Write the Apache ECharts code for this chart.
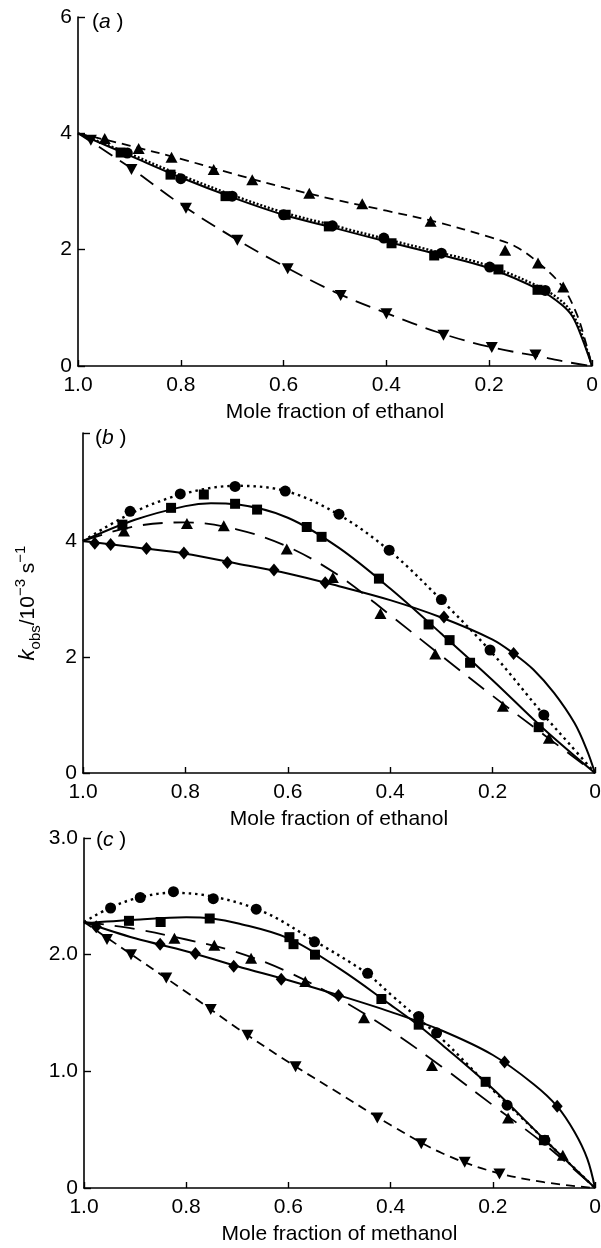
<!DOCTYPE html>
<html>
<head>
<meta charset="utf-8">
<script src="https://cdn.jsdelivr.net/npm/echarts@6/dist/echarts.min.js"></script>
<style>
html,body{margin:0;padding:0;background:#fff;}
#chart{width:601px;height:1248px;}
</style>
</head>
<body>
<div id="chart"></div>
<script>
// ---------- tick values ----------
const xTicks = [1.0, 0.8, 0.6, 0.4, 0.2, 0];
const yTicksA = [0, 2, 4, 6];
const yTicksB = [0, 2, 4];
const yTicksC = [0, 1.0, 2.0, 3.0];
const xTitles = ['Mole fraction of ethanol', 'Mole fraction of ethanol', 'Mole fraction of methanol'];
const panelLetters = ['a', 'b', 'c'];

// ---------- panel (a) ----------
const aUpPts = [[0.948,3.91],[0.882,3.74],[0.818,3.59],[0.736,3.38],[0.661,3.20],[0.55,2.97],[0.447,2.79],[0.314,2.49],[0.169,1.99],[0.105,1.77],[0.056,1.36]];
const aUpCurve = [[1,4],[0.9,3.79],[0.8,3.56],[0.7,3.31],[0.6,3.07],[0.5,2.86],[0.4,2.67],[0.3,2.47],[0.2,2.22],[0.15,2.06],[0.105,1.78],[0.058,1.37],[0.03,0.9],[0.012,0.4],[0,0]];
const aDownPts = [[0.975,3.88],[0.896,3.38],[0.79,2.71],[0.69,2.16],[0.592,1.67],[0.489,1.21],[0.40,0.90],[0.289,0.53],[0.195,0.32],[0.11,0.19]];
const aDownCurve = [[1,4],[0.9,3.42],[0.8,2.78],[0.7,2.22],[0.6,1.72],[0.5,1.27],[0.4,0.91],[0.3,0.58],[0.2,0.33],[0.1,0.16],[0.05,0.07],[0,0]];
const aSqPts = [[0.917,3.67],[0.82,3.29],[0.713,2.92],[0.596,2.60],[0.512,2.40],[0.39,2.11],[0.307,1.90],[0.182,1.66],[0.106,1.31]];
const aCirPts = [[0.904,3.66],[0.80,3.22],[0.70,2.92],[0.60,2.60],[0.505,2.41],[0.405,2.20],[0.293,1.94],[0.199,1.70],[0.091,1.30]];
const aSolidCurve = [[1,4],[0.9,3.62],[0.8,3.24],[0.7,2.9],[0.6,2.6],[0.5,2.37],[0.4,2.14],[0.3,1.92],[0.2,1.68],[0.1,1.3],[0.06,1.06],[0.038,0.85],[0.019,0.47],[0,0]];
const aDotCurve = [[1,4],[0.9,3.65],[0.8,3.28],[0.7,2.94],[0.6,2.64],[0.5,2.41],[0.4,2.18],[0.3,1.96],[0.2,1.72],[0.1,1.35],[0.06,1.12],[0.038,0.9],[0.019,0.52],[0,0]];

// ---------- panel (b) ----------
const bCirPts = [[0.908,4.51],[0.81,4.81],[0.703,4.94],[0.605,4.86],[0.50,4.46],[0.402,3.84],[0.30,2.99],[0.205,2.12],[0.10,1.0]];
const bDotCurve = [[1,4],[0.9,4.5],[0.8,4.82],[0.7,4.95],[0.6,4.85],[0.5,4.45],[0.4,3.82],[0.3,2.98],[0.2,2.06],[0.1,1.0],[0.05,0.5],[0,0]];
const bSqPts = [[0.923,4.28],[0.828,4.57],[0.764,4.80],[0.703,4.64],[0.66,4.54],[0.563,4.24],[0.534,4.07],[0.422,3.35],[0.325,2.56],[0.284,2.29],[0.244,1.90],[0.11,0.79]];
const bSqCurve = [[1,4],[0.9,4.36],[0.8,4.6],[0.75,4.65],[0.7,4.63],[0.6,4.4],[0.5,3.88],[0.4,3.18],[0.3,2.4],[0.2,1.6],[0.1,0.76],[0,0]];
const bUpPts = [[0.92,4.17],[0.797,4.30],[0.725,4.26],[0.602,3.86],[0.512,3.37],[0.419,2.75],[0.312,2.05],[0.18,1.15],[0.09,0.60]];
const bUpCurve = [[1,4],[0.9,4.25],[0.8,4.32],[0.7,4.2],[0.6,3.9],[0.5,3.4],[0.4,2.72],[0.3,2.02],[0.2,1.33],[0.1,0.66],[0,0]];
const bDiaPts = [[0.977,3.96],[0.946,3.94],[0.876,3.87],[0.803,3.79],[0.718,3.63],[0.627,3.50],[0.527,3.28],[0.295,2.69],[0.159,2.06]];
const bDiaCurve = [[1,4],[0.9,3.89],[0.8,3.78],[0.7,3.61],[0.6,3.44],[0.5,3.22],[0.4,2.98],[0.3,2.68],[0.2,2.3],[0.159,2.06],[0.12,1.78],[0.08,1.38],[0.04,0.86],[0.016,0.4],[0,0]];

// ---------- panel (c) ----------
const cCirPts = [[0.948,2.40],[0.89,2.49],[0.825,2.54],[0.747,2.48],[0.663,2.39],[0.549,2.11],[0.445,1.84],[0.345,1.47],[0.31,1.33],[0.172,0.71],[0.098,0.41]];
const cDotCurve = [[1,2.28],[0.95,2.40],[0.9,2.48],[0.83,2.53],[0.75,2.50],[0.65,2.37],[0.55,2.12],[0.45,1.85],[0.4,1.66],[0.35,1.47],[0.3,1.28],[0.2,0.84],[0.1,0.42],[0.05,0.21],[0,0]];
const cSqPts = [[0.912,2.29],[0.85,2.28],[0.754,2.31],[0.598,2.15],[0.59,2.09],[0.548,2.0],[0.418,1.62],[0.345,1.40],[0.214,0.91],[0.10,0.41]];
const cSqCurve = [[1,2.27],[0.9,2.30],[0.8,2.32],[0.75,2.31],[0.7,2.27],[0.6,2.14],[0.5,1.88],[0.4,1.57],[0.35,1.41],[0.3,1.23],[0.2,0.85],[0.1,0.42],[0,0]];
const cUpPts = [[0.823,2.14],[0.745,2.08],[0.673,1.97],[0.567,1.77],[0.452,1.46],[0.319,1.05],[0.17,0.60],[0.063,0.28]];
const cUpCurve = [[1,2.28],[0.9,2.22],[0.8,2.13],[0.7,2.02],[0.6,1.85],[0.5,1.62],[0.4,1.35],[0.3,1.04],[0.2,0.71],[0.1,0.38],[0,0]];
const cDiaPts = [[0.976,2.24],[0.851,2.09],[0.782,2.01],[0.707,1.90],[0.614,1.79],[0.502,1.65],[0.177,1.08],[0.074,0.70]];
const cDiaCurve = [[1,2.28],[0.9,2.14],[0.8,2.03],[0.7,1.9],[0.6,1.78],[0.5,1.65],[0.4,1.51],[0.3,1.35],[0.2,1.14],[0.12,0.89],[0.074,0.70],[0.04,0.48],[0.015,0.25],[0,0]];
const cDownPts = [[0.955,2.13],[0.908,2.0],[0.839,1.80],[0.752,1.53],[0.68,1.31],[0.586,1.04],[0.426,0.60],[0.34,0.38],[0.255,0.22],[0.187,0.12]];
const cDownCurve = [[1,2.28],[0.95,2.13],[0.9,1.98],[0.8,1.68],[0.7,1.37],[0.6,1.08],[0.5,0.81],[0.4,0.54],[0.3,0.30],[0.2,0.14],[0.1,0.05],[0,0]];

// ---------- styling / layout ----------
const FONT = '"Liberation Sans", Arial, Helvetica, sans-serif';
const INK = '#000';
const grids = [
  {left: 78, top: 17, width: 514, height: 349},
  {left: 83, top: 433, width: 512, height: 340},
  {left: 84, top: 838, width: 511, height: 350}
];
const yMax = [6, 5.86, 3];
const yTickSets = [yTicksA, yTicksB, yTicksC];

function fmtX(v) {
  const hit = xTicks.find(t => Math.abs(t - v) < 1e-6);
  if (hit === undefined) return '';
  if (hit === 0) return '0';
  return hit.toFixed(1);
}
function fmtY(i) {
  return function (v) {
    const hit = yTickSets[i].find(t => Math.abs(t - v) < 1e-6);
    if (hit === undefined) return '';
    if (hit === 0) return '0';
    return i === 2 ? hit.toFixed(1) : String(hit);
  };
}

const xAxes = grids.map((g, i) => ({
  gridIndex: i, type: 'value', min: 0, max: 1, interval: 0.2, inverse: true,
  name: xTitles[i], nameLocation: 'middle', nameGap: 36,
  nameTextStyle: {fontSize: 21, color: INK, fontFamily: FONT},
  axisLine: {show: true, onZero: false, lineStyle: {color: INK, width: 1.6}},
  axisTick: {show: true, inside: true, length: 6, lineStyle: {color: INK, width: 1.4}},
  axisLabel: {color: INK, fontSize: 21, fontFamily: FONT, margin: 9, formatter: fmtX, showMinLabel: true, showMaxLabel: true},
  splitLine: {show: false}
}));

const yAxes = grids.map((g, i) => ({
  gridIndex: i, type: 'value', min: 0, max: yMax[i], interval: i === 2 ? 1 : 2,
  axisLine: {show: true, onZero: false, lineStyle: {color: INK, width: 1.6}},
  axisTick: Object.assign({show: true, inside: true, length: 7, lineStyle: {color: INK, width: 1.4}},
    i === 1 ? {customValues: [0, 2, 4, yMax[1]]} : {}),
  axisLabel: Object.assign({color: INK, fontSize: 21, fontFamily: FONT, margin: 6, formatter: fmtY(i), showMinLabel: true, showMaxLabel: true},
    i === 1 ? {customValues: yTicksB} : {}),
  splitLine: {show: false},
  name: i === 1 ? '{k|k}{sub|obs}{n|/10}{sup|−3}{n| s}{sup|−1}' : '',
  nameLocation: 'middle', nameRotate: 90, nameGap: 40,
  nameTextStyle: {
    color: INK, fontFamily: FONT,
    rich: {
      k: {fontSize: 22, fontStyle: 'italic', fontFamily: FONT, color: INK, lineHeight: 30, verticalAlign: 'middle'},
      n: {fontSize: 21, fontFamily: FONT, color: INK, lineHeight: 30, verticalAlign: 'middle'},
      sub: {fontSize: 15, fontFamily: FONT, color: INK, lineHeight: 30, verticalAlign: 'bottom'},
      sup: {fontSize: 15, fontFamily: FONT, color: INK, lineHeight: 30, verticalAlign: 'top'}
    }
  }
}));

function curve(data, gi, type, width) {
  return {type: 'line', xAxisIndex: gi, yAxisIndex: gi, data: data, smooth: 0.35,
    symbol: 'none', showSymbol: false, silent: true, z: 2,
    lineStyle: {color: INK, width: width || 1.8, type: type, cap: 'butt', opacity: 1}};
}
function pts(data, gi, symbol, size, rotate) {
  return {type: 'scatter', xAxisIndex: gi, yAxisIndex: gi, data: data, symbol: symbol,
    symbolSize: size, symbolRotate: rotate || 0, silent: true, z: 4,
    itemStyle: {color: INK, borderWidth: 0, opacity: 1}};
}

const DOT_A = [2, 2];
const DOT = [2.5, 4];
const SHORT = [9, 6];
const LONG = [16, 9];
const LONGER = [20, 11];

const series = [
  // (a)
  curve(aUpCurve, 0, SHORT, 1.8),
  curve(aDownCurve, 0, LONG, 1.8),
  curve(aDotCurve, 0, DOT_A, 2.4),
  curve(aSolidCurve, 0, 'solid', 2),
  pts(aUpPts, 0, 'triangle', [12, 11]),
  pts(aDownPts, 0, 'triangle', [12, 11], 180),
  pts(aSqPts, 0, 'rect', 10),
  pts(aCirPts, 0, 'circle', 11),
  // (b)
  curve(bDotCurve, 1, DOT, 2.4),
  curve(bSqCurve, 1, 'solid', 2),
  curve(bUpCurve, 1, LONGER, 1.8),
  curve(bDiaCurve, 1, 'solid', 2),
  pts(bCirPts, 1, 'circle', 11),
  pts(bSqPts, 1, 'rect', 10),
  pts(bUpPts, 1, 'triangle', [12, 11]),
  pts(bDiaPts, 1, 'diamond', [11, 13]),
  // (c)
  curve(cDotCurve, 2, DOT, 2.4),
  curve(cSqCurve, 2, 'solid', 2),
  curve(cUpCurve, 2, LONGER, 1.8),
  curve(cDiaCurve, 2, 'solid', 2),
  curve(cDownCurve, 2, SHORT, 1.8),
  pts(cCirPts, 2, 'circle', 11),
  pts(cSqPts, 2, 'rect', 10),
  pts(cUpPts, 2, 'triangle', [12, 11]),
  pts(cDiaPts, 2, 'diamond', [11, 13]),
  pts(cDownPts, 2, 'triangle', [12, 11], 180)
];

const titlePos = [{left: 87, top: 7}, {left: 90, top: 423}, {left: 91, top: 825}];
const titles = panelLetters.map((L, i) => ({
  text: '{p|(}{i|' + L + '}{p| )}', left: titlePos[i].left, top: titlePos[i].top,
  textStyle: {fontWeight: 'normal', rich: {
    p: {fontSize: 21, fontFamily: FONT, fontWeight: 'normal', color: INK},
    i: {fontSize: 21, fontFamily: FONT, fontStyle: 'italic', fontWeight: 'normal', color: INK}
  }}
}));

const chart = echarts.init(document.getElementById('chart'), null, {renderer: 'canvas'});
chart.setOption({
  backgroundColor: '#fff',
  animation: false,
  title: titles,
  grid: grids.map(g => Object.assign({containLabel: false, outerBoundsMode: 'none'}, g)),
  xAxis: xAxes,
  yAxis: yAxes,
  series: series
});
</script>
</body>
</html>
